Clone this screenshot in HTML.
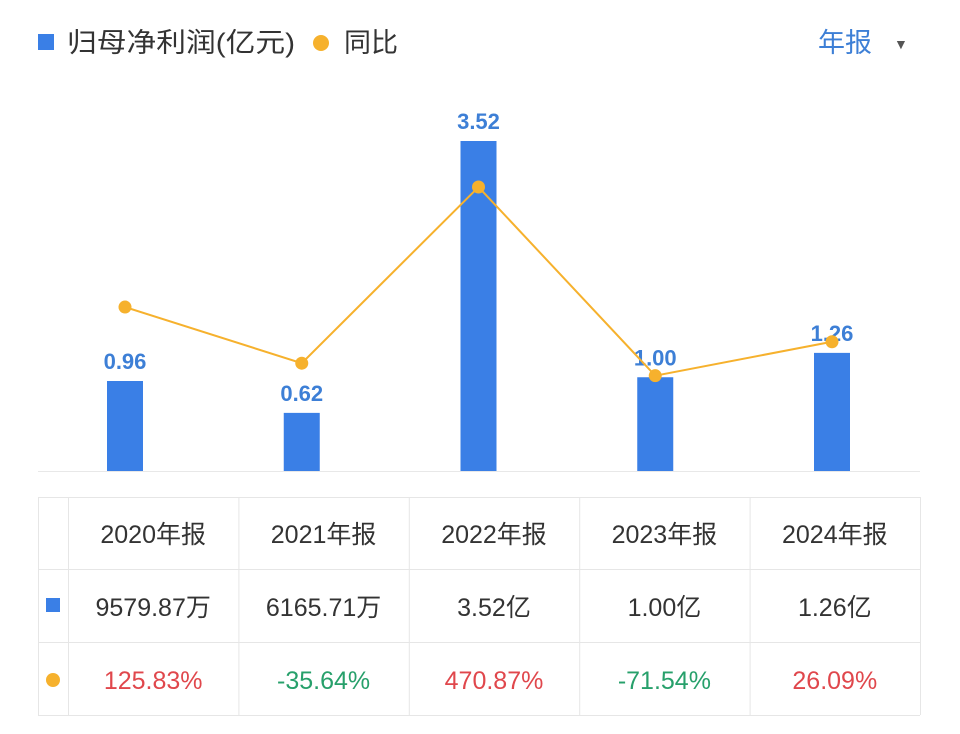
<!DOCTYPE html>
<html><head><meta charset="utf-8"><style>
body{margin:0;width:960px;height:734px;background:#fff;overflow:hidden;font-family:"Liberation Sans","Noto Sans CJK SC",sans-serif;}
svg{position:absolute;left:0;top:0}
</style></head><body>
<svg id="c" width="960" height="734" xmlns="http://www.w3.org/2000/svg">
<rect x="38" y="34" width="16" height="16" fill="#3a7fe6"/>
<text x="67" y="52" font-size="27" fill="#333" textLength="228" lengthAdjust="spacingAndGlyphs">归母净利润(亿元)</text>
<circle cx="321" cy="43" r="8" fill="#f6b12d"/>
<text x="344" y="52" font-size="27" fill="#333">同比</text>
<text x="818" y="52" font-size="27" fill="#3d7fd6">年报</text>
<text x="894" y="49" font-size="14" fill="#555">▼</text>
<line x1="38" y1="471.5" x2="920" y2="471.5" stroke="#e8e8e8" stroke-width="1"/>
<g id="bars"></g><g id="line"></g><g id="tbl"></g>
</svg>
<script>
const categories=["2020年报","2021年报","2022年报","2023年报","2024年报"];
const profit=[0.96,0.62,3.52,1.00,1.26];
const profitText=["9579.87万","6165.71万","3.52亿","1.00亿","1.26亿"];
const yoy=[125.83,-35.64,470.87,-71.54,26.09];
const NS="http://www.w3.org/2000/svg";
function xPos(i){return 125+i*176.75;}
function yb(v){return 471-v*93.75;}
function yl(v){return 350.8-v*0.3478;}
function mk(t,a,p){const e=document.createElementNS(NS,t);for(const k in a)e.setAttribute(k,a[k]);p.appendChild(e);return e;}
const barsG=document.getElementById('bars'),lineG=document.getElementById('line'),tblG=document.getElementById('tbl');
profit.forEach((v,i)=>{
 const r=mk('rect',{x:xPos(i)-18,y:yb(v),width:36,height:471-yb(v),fill:'#3a7fe6'},barsG);
 
 
 const t=mk('text',{x:xPos(i),y:yb(v)-12,'font-size':22,'text-anchor':'middle',fill:'#3d7fd6','font-weight':'bold'},barsG);
 t.textContent=v.toFixed(2);
 
 
});
const pl=mk('polyline',{points:yoy.map((v,i)=>xPos(i)+','+yl(v)).join(' '),fill:'none',stroke:'#f6b12d','stroke-width':2},lineG);


yoy.forEach((v,i)=>{
 const c=mk('circle',{cx:xPos(i),cy:yl(v),r:6.5,fill:'#f6b12d'},lineG);
 
 
});
const rowYs=[497,569,642,715],colXs=[38,68];
for(let i=1;i<=5;i++)colXs.push(68+i*170.4);
const gc='#e6e6e6';
rowYs.forEach(y=>{const l=mk('line',{x1:38,x2:920,y1:y+.5,y2:y+.5,stroke:gc},tblG);});
colXs.forEach(cx=>{const l=mk('line',{x1:cx+.5,x2:cx+.5,y1:497,y2:715,stroke:gc},tblG);});
const sq=mk('rect',{x:46,y:598,width:14,height:14,fill:'#3a7fe6'},tblG);


const dc=mk('circle',{cx:53,cy:680,r:7,fill:'#f6b12d'},tblG);


categories.forEach((c,i)=>{
 const cx=68+i*170.4+85.2;
 const h=mk('text',{x:cx,y:543,'font-size':25,'text-anchor':'middle',fill:'#333'},tblG);h.textContent=c;
 
 
 const p=mk('text',{x:cx,y:616,'font-size':25,'text-anchor':'middle',fill:'#333'},tblG);p.textContent=profitText[i];
 
 
 const q=mk('text',{x:cx,y:689,'font-size':25,'text-anchor':'middle',fill:yoy[i]>=0?'#e0474c':'#27a06b'},tblG);q.textContent=yoy[i].toFixed(2)+'%';
 
 
});
</script>
</body></html>
